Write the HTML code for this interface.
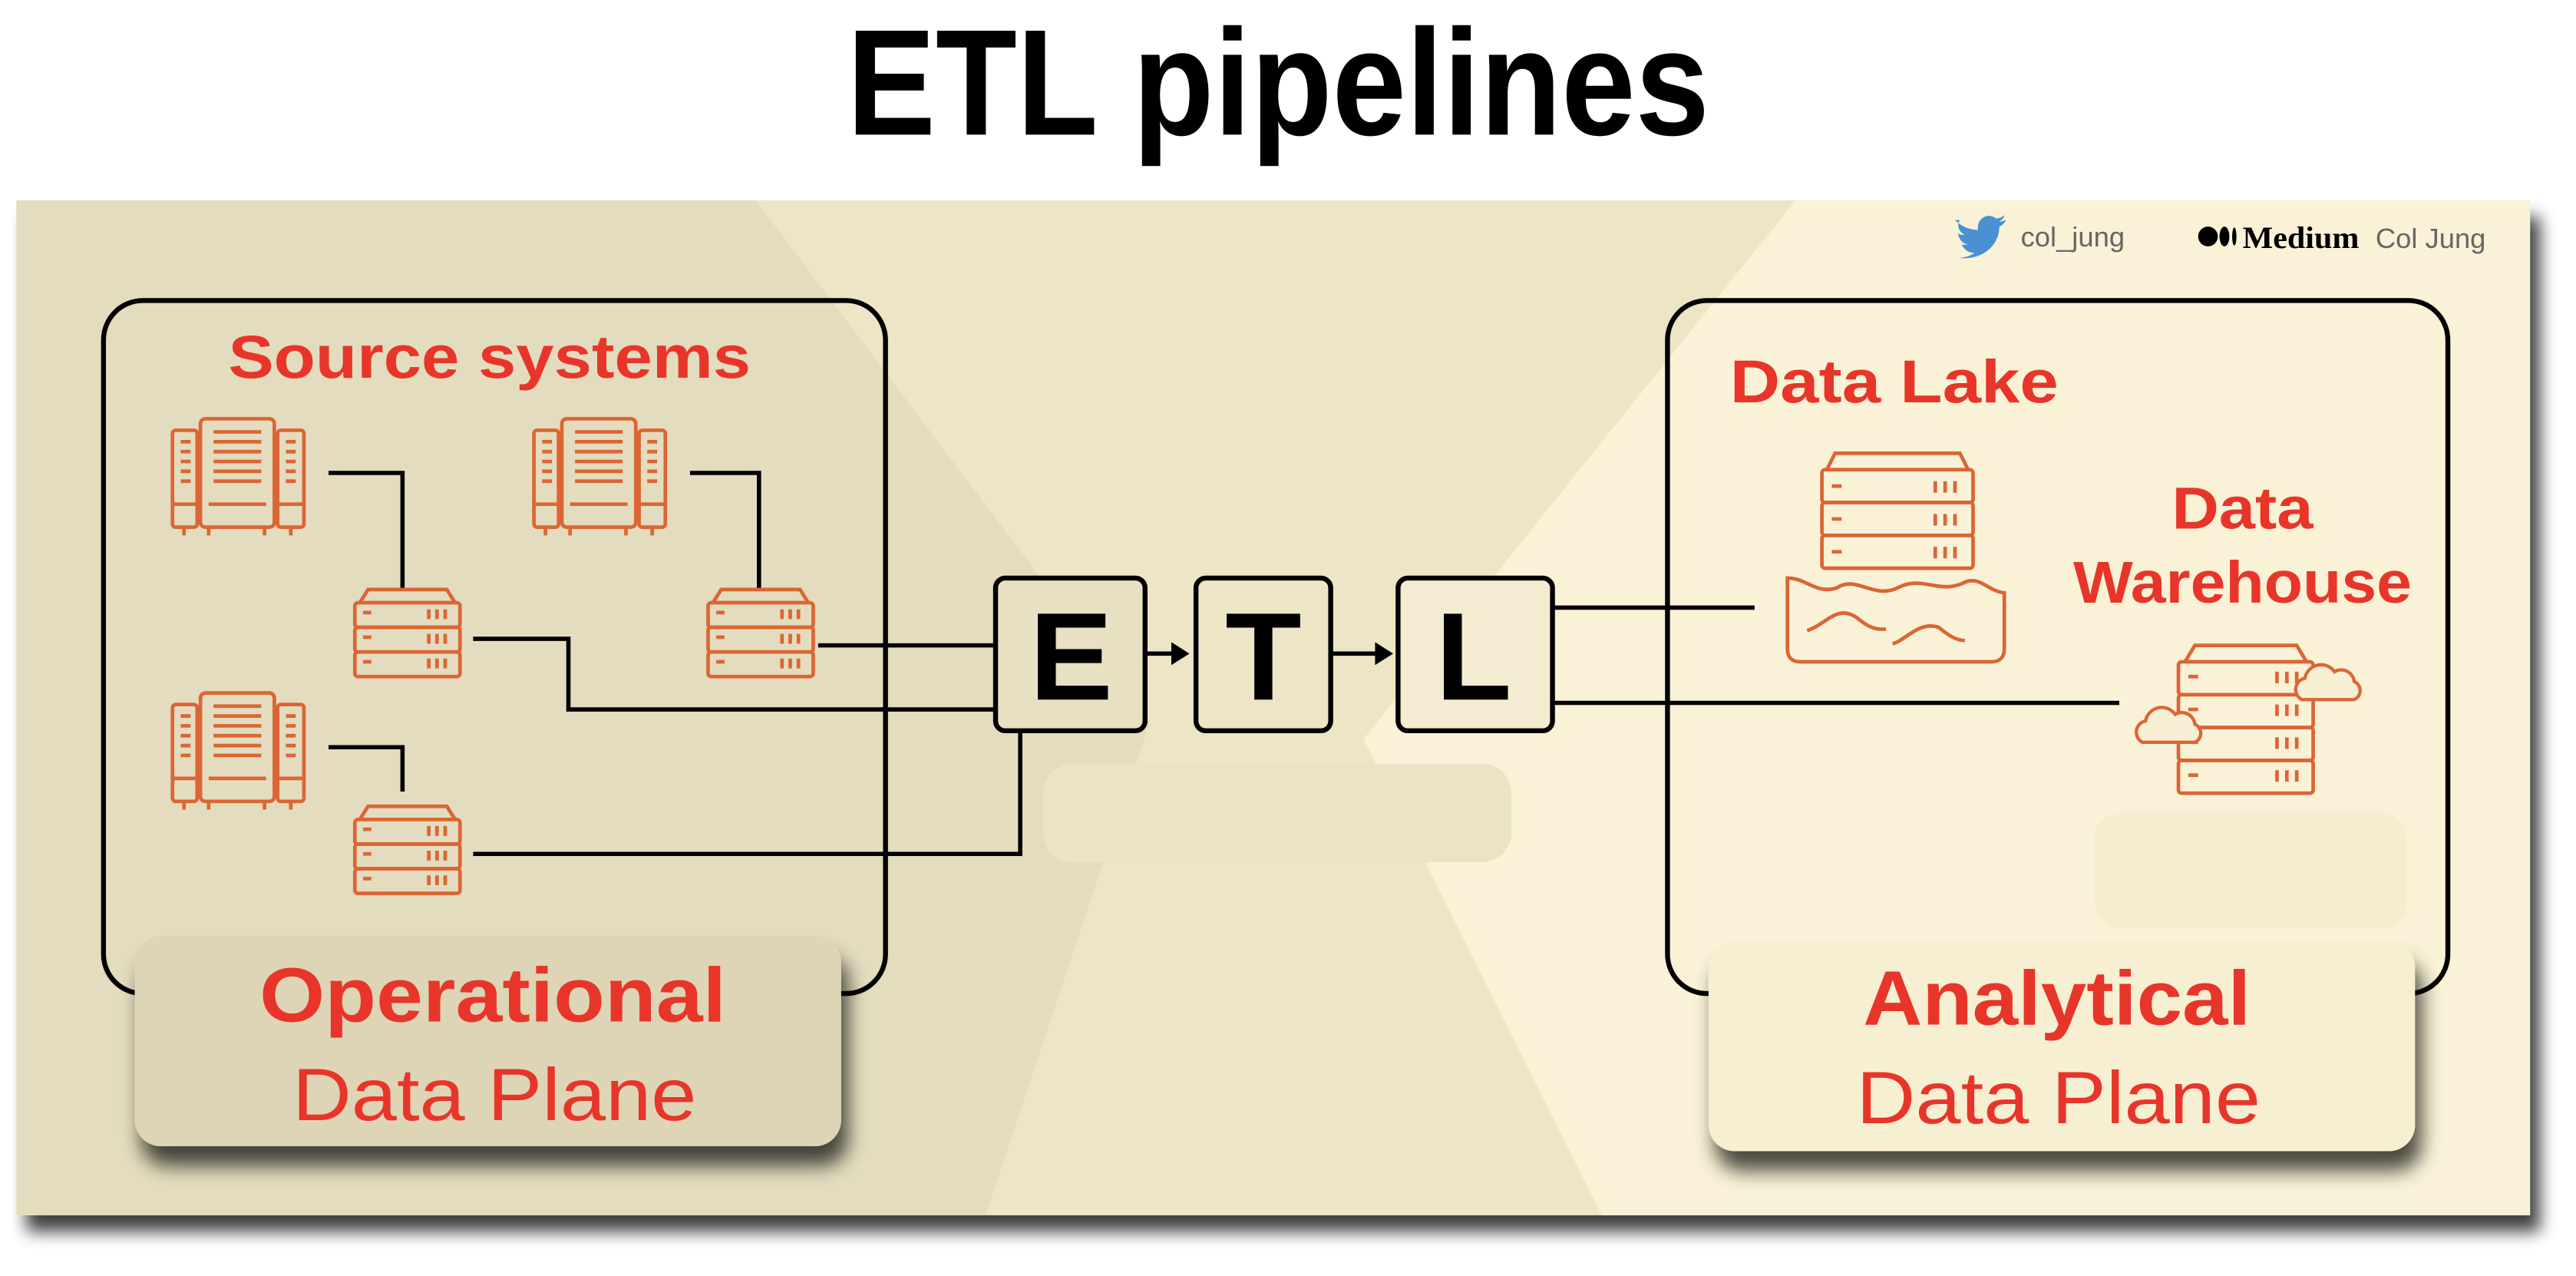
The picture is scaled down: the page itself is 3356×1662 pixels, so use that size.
<!DOCTYPE html>
<html><head><meta charset="utf-8"><style>
html,body{margin:0;padding:0;background:#fff;}
svg{display:block}
</style></head><body>
<svg width="3356" height="1662" viewBox="0 0 1568 777" preserveAspectRatio="none" xmlns="http://www.w3.org/2000/svg">
<defs>
<filter id="sh" x="-10%" y="-10%" width="130%" height="140%"><feGaussianBlur in="SourceAlpha" stdDeviation="5"/><feOffset dx="6" dy="10"/><feComponentTransfer><feFuncA type="linear" slope="0.75"/></feComponentTransfer><feMerge><feMergeNode/><feMergeNode in="SourceGraphic"/></feMerge></filter>
<filter id="sh2" x="-10%" y="-10%" width="130%" height="150%"><feGaussianBlur in="SourceAlpha" stdDeviation="6"/><feOffset dx="4" dy="12"/><feComponentTransfer><feFuncA type="linear" slope="0.7"/></feComponentTransfer><feMerge><feMergeNode/><feMergeNode in="SourceGraphic"/></feMerge></filter>
<g id="tower" fill="none" stroke="#dc6535" stroke-width="2.2">
<rect x="17" y="0" width="45" height="66" rx="3"/>
<rect x="0" y="7" width="15" height="59" rx="2"/>
<rect x="64" y="7" width="16" height="59" rx="2"/>
<line x1="22" y1="52" x2="57" y2="52"/><line x1="1" y1="52" x2="15" y2="52"/><line x1="65" y1="52" x2="79" y2="52"/>
<path d="M25 8h29M25 14h29M25 20h29M25 26h29M25 32h29M25 38h29M5 14h6M5 20h6M5 26h6M5 32h6M5 38h6M69 14h6M69 20h6M69 26h6M69 32h6M69 38h6"/>
<path d="M7 66v5M22 66v5M56 66v5M72 66v5"/>
</g>
<g id="rack" fill="none" stroke="#dc6535" stroke-width="2.2">
<path d="M4 9 L9 1 H57 L62 9"/>
<rect x="1" y="9" width="64" height="15" rx="2"/>
<rect x="1" y="24" width="64" height="15" rx="2"/>
<rect x="1" y="39" width="64" height="15" rx="2"/>
<path d="M6 15h5M6 30h5M6 45h5M46 13v6M51 13v6M56 13v6M46 28v6M51 28v6M56 28v6M46 43v6M51 43v6M56 43v6"/>
</g>
<g id="cloud" fill="#f8f0d4" stroke="#dc6535" stroke-width="2"><path d="M4 26 a7 7 0 0 1 2-13 a10 10 0 0 1 18-4 a8 8 0 0 1 12 6 a6 6 0 0 1 0 11 z"/></g>
</defs>
<rect width="1568" height="777" fill="#fff"/>
<!-- panel -->
<g filter="url(#sh)">
<rect x="10" y="122" width="1530" height="618" fill="#ede5c6"/>
</g>
<polygon points="10,122 460,122 700,440 600,740 10,740" fill="#e3dcbe"/>
<polygon points="1093,122 1540,122 1540,740 975,740 830,450" fill="#f9f2d6"/>
<!-- faint boxes -->
<rect x="635" y="465" width="285" height="60" rx="18" fill="#ebe3c5"/>
<rect x="1275" y="495" width="190" height="70" rx="15" fill="#f5edd0"/>
<!-- group boxes -->
<rect x="63" y="183" width="476" height="422" rx="24" fill="none" stroke="#000" stroke-width="3"/>
<rect x="1015" y="183" width="475" height="422" rx="24" fill="none" stroke="#000" stroke-width="3"/>
<!-- header -->
<text x="778" y="82" text-anchor="middle" font-family="Liberation Sans, sans-serif" font-weight="bold" font-size="92" textLength="525" lengthAdjust="spacingAndGlyphs" fill="#000">ETL pipelines</text>
<!-- twitter / medium -->
<path d="M1190 134 c4 4 9 6 14 6 c-1-7 6-11 11-7 c2 0 4-1 5-2 c0 2-2 3-3 4 c2 0 3-1 4-1 c-1 2-2 3-4 4 c0 11-10 21-25 19 c4 0 7-1 10-3 c-4 0-6-2-8-5 h4 c-4-1-6-4-6-7 c1 1 2 1 4 1 c-4-2-5-6-3-9 z" fill="#4a90d2"/>
<text x="1230" y="150" font-family="Liberation Sans, sans-serif" font-size="17" fill="#666">col_jung</text>
<circle cx="1344" cy="144" r="6" fill="#000"/><ellipse cx="1354" cy="144" rx="3" ry="6" fill="#000"/><ellipse cx="1360" cy="144" rx="1.3" ry="5.5" fill="#000"/>
<text x="1365" y="151" font-family="Liberation Serif, serif" font-weight="bold" font-size="19" fill="#000" textLength="71" lengthAdjust="spacingAndGlyphs">Medium</text>
<text x="1446" y="151" font-family="Liberation Sans, sans-serif" font-size="17" fill="#666">Col Jung</text>
<!-- connectors -->
<g fill="none" stroke="#000" stroke-width="2.6">
<path d="M200 288 H245 V358"/>
<path d="M420 288 H462 V358"/>
<path d="M200 455 H245 V482"/>
<path d="M288 389 H346 V432 H606"/>
<path d="M498 393 H606"/>
<path d="M288 520 H621 V446"/>
<path d="M946 370 H1068"/>
<path d="M946 428 H1290"/>
<path d="M698 398 H716"/><path d="M811 398 H839"/>
</g>
<path d="M713 391 L724 398 L713 405 z" fill="#000"/>
<path d="M837 391 L848 398 L837 405 z" fill="#000"/>
<!-- ETL boxes -->
<g fill="none" stroke="#000" stroke-width="3">
<rect x="606" y="352" width="91" height="93" rx="6" fill="#e8e0c2"/>
<rect x="728" y="352" width="82" height="93" rx="6" fill="#ede5c6"/>
<rect x="851" y="352" width="94" height="93" rx="6" fill="#f4ecd0"/>
</g>
<g font-family="Liberation Sans, sans-serif" font-weight="bold" font-size="76" text-anchor="middle" fill="#000">
<text x="652" y="426">E</text><text x="769" y="426">T</text><text x="897" y="426">L</text>
</g>
<!-- icons -->
<use href="#tower" x="105" y="255"/>
<use href="#tower" x="325" y="255"/>
<use href="#tower" x="105" y="422"/>
<use href="#rack" x="215" y="358"/>
<use href="#rack" x="430" y="358"/>
<use href="#rack" x="215" y="490"/>
<!-- data lake -->
<g fill="none" stroke="#dc6535" stroke-width="2.2">
<path d="M1112 286 L1117 276 H1193 L1198 286"/>
<rect x="1109" y="286" width="92" height="20" rx="2"/>
<rect x="1109" y="306" width="92" height="20" rx="2"/>
<rect x="1109" y="326" width="92" height="20" rx="2"/>
<path d="M1115 296h6M1115 316h6M1115 336h6M1178 293v7M1184 293v7M1190 293v7M1178 313v7M1184 313v7M1190 313v7M1178 333v7M1184 333v7M1190 333v7"/>
<path d="M1088 352 C1100 352 1105 362 1118 358 C1130 350 1140 365 1155 358 C1170 350 1180 362 1195 355 C1205 350 1210 360 1220 361 V395 Q1220 403 1212 403 H1096 Q1088 403 1088 395 Z"/>
<path d="M1100 384 C1112 380 1118 368 1130 376 C1135 380 1140 384 1148 383"/>
<path d="M1152 392 C1160 390 1168 378 1180 382 C1185 386 1190 390 1196 390"/>
</g>
<!-- warehouse -->
<g fill="none" stroke="#dc6535" stroke-width="2.2">
<path d="M1330 403 L1336 393 H1398 L1404 403"/>
<rect x="1326" y="403" width="82" height="20" rx="2"/>
<rect x="1326" y="423" width="82" height="20" rx="2"/>
<rect x="1326" y="443" width="82" height="20" rx="2"/>
<rect x="1326" y="463" width="82" height="20" rx="2"/>
<path d="M1332 412h6M1332 432h6M1332 452h6M1332 472h6M1386 409v7M1392 409v7M1398 409v7M1386 429v7M1392 429v7M1398 429v7M1386 449v7M1392 449v7M1398 449v7M1386 469v7M1392 469v7M1398 469v7"/>
</g>
<use href="#cloud" x="1397" y="400"/>
<use href="#cloud" x="1300" y="426"/>
<!-- red labels -->
<g font-family="Liberation Sans, sans-serif" font-weight="bold" fill="#e8352a" text-anchor="middle">
<text x="298" y="230" font-size="37" textLength="318" lengthAdjust="spacingAndGlyphs">Source systems</text>
<text x="1153" y="245" font-size="37" textLength="200" lengthAdjust="spacingAndGlyphs">Data Lake</text>
<text x="1365" y="322" font-size="36" textLength="86" lengthAdjust="spacingAndGlyphs">Data</text>
<text x="1365" y="367" font-size="36" textLength="206" lengthAdjust="spacingAndGlyphs">Warehouse</text>
</g>
<!-- plane labels -->
<g filter="url(#sh2)">
<rect x="82" y="570" width="430" height="128" rx="16" fill="#ddd5b5"/>
<rect x="1040" y="573" width="430" height="128" rx="16" fill="#f7efd2"/>
</g>
<g font-family="Liberation Sans, sans-serif" fill="#e8352a" text-anchor="middle">
<text x="300" y="622" font-size="47" font-weight="bold" textLength="284" lengthAdjust="spacingAndGlyphs">Operational</text>
<text x="301" y="682" font-size="45" textLength="246" lengthAdjust="spacingAndGlyphs">Data Plane</text>
<text x="1252" y="624" font-size="47" font-weight="bold" textLength="236" lengthAdjust="spacingAndGlyphs">Analytical</text>
<text x="1253" y="684" font-size="45" textLength="246" lengthAdjust="spacingAndGlyphs">Data Plane</text>
</g>
</svg>
</body></html>
